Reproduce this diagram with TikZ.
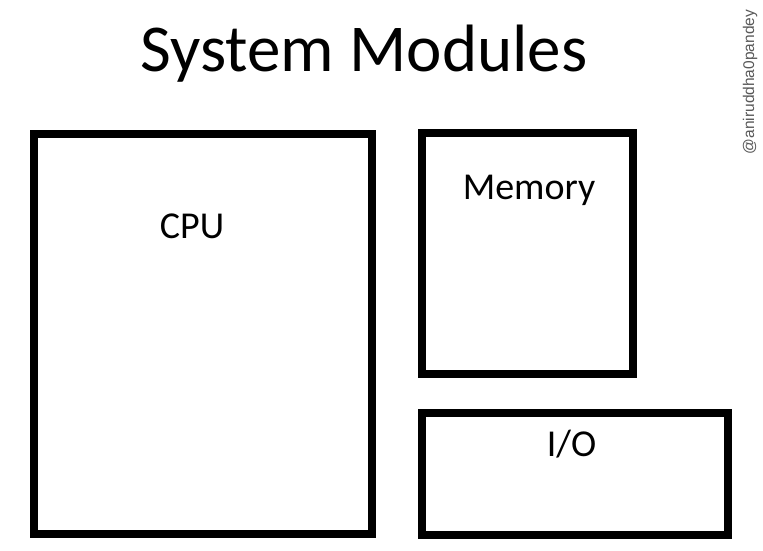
\documentclass[tikz,border=0pt]{standalone}
\usepackage{fontspec}
\setmainfont{Carlito}
\newfontfamily\wmfont{Liberation Sans}
\begin{document}
\begin{tikzpicture}[x=1pt,y=-1pt,
  modbox/.style={draw=black,line width=8pt,rectangle,inner sep=0pt,outer sep=0pt,fill=none},
  lbl/.style={font=\fontsize{38}{44}\selectfont,anchor=base,inner sep=0pt}]
\useasboundingbox[fill=white] (0,0) rectangle (763,550);
\node[anchor=base,inner sep=0pt,font=\fontsize{67}{80}\selectfont] (title) at (364,71) {System Modules};
\node[rotate=90,anchor=base,inner sep=0pt,text=black!65,font=\wmfont\fontsize{15.5}{18}\selectfont] (wm) at (754,82) {@aniruddha0pandey};
\node[modbox,minimum width=338pt,minimum height=400pt] (cpu) at (203,334) {};
\node[modbox,minimum width=211pt,minimum height=240.5pt] (mem) at (527.5,253.25) {};
\node[modbox,minimum width=306pt,minimum height=122pt] (io) at (575,474) {};
\node[lbl] (cpul) at (192,238) {CPU};
\node[lbl] (meml) at (529,199) {Memory};
\node[lbl] (iol) at (571.5,456.5) {I/O};
\end{tikzpicture}
\end{document}
